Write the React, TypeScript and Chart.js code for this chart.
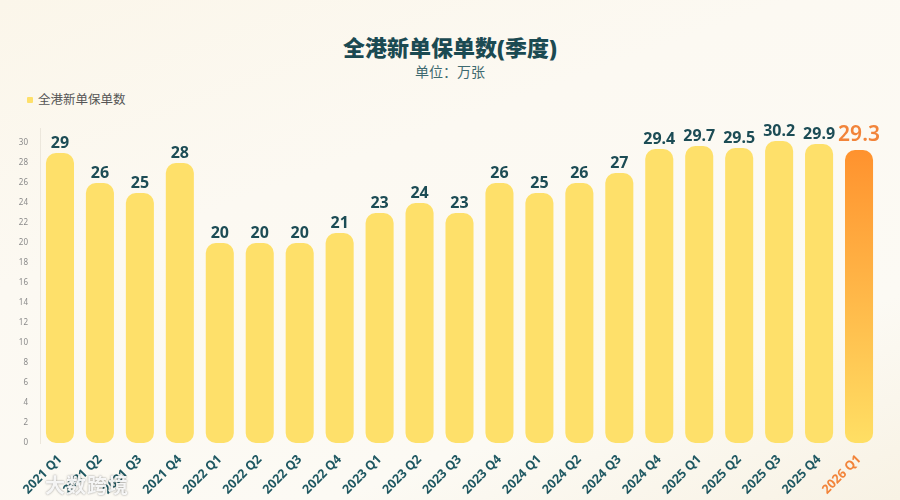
import { useEffect, useRef } from "react";
import { Chart, registerables, type ChartOptions, type Plugin } from "chart.js";

Chart.register(...registerables);

const quarters = [
  "2021 Q1", "2021 Q2", "2021 Q3", "2021 Q4",
  "2022 Q1", "2022 Q2", "2022 Q3", "2022 Q4",
  "2023 Q1", "2023 Q2", "2023 Q3", "2023 Q4",
  "2024 Q1", "2024 Q2", "2024 Q3", "2024 Q4",
  "2025 Q1", "2025 Q2", "2025 Q3", "2025 Q4",
  "2026 Q1",
];
const policies = [29, 26, 25, 28, 20, 20, 20, 21, 23, 24, 23, 26, 25, 26, 27, 29.4, 29.7, 29.5, 30.2, 29.9, 29.3];
const yTicks = [0, 2, 4, 6, 8, 10, 12, 14, 16, 18, 20, 22, 24, 26, 28, 30];

const TEAL = "#1c4c55";
const ORANGE = "#f2843a";
const YELLOW = "#fee06a";
const FONT = '"Noto Sans", "Noto Sans CJK SC", sans-serif';
const LAST = quarters.length - 1;

// numbers above the bars, the latest quarter in orange
const valueLabels: Plugin<"bar"> = {
  id: "valueLabels",
  afterDatasetsDraw(chart) {
    const ctx = chart.ctx;
    const meta = chart.getDatasetMeta(0);
    ctx.save();
    ctx.textAlign = "center";
    ctx.textBaseline = "bottom";
    meta.data.forEach((bar, i) => {
      const last = i === LAST;
      ctx.fillStyle = last ? ORANGE : TEAL;
      ctx.font = last ? `600 21px ${FONT}` : `700 16px ${FONT}`;
      ctx.fillText(String(policies[i]), bar.x, bar.y - (last ? 4 : 2));
    });
    ctx.restore();
  },
};

const options: ChartOptions<"bar"> = {
  responsive: true,
  maintainAspectRatio: false,
  animation: false,
  layout: { padding: { top: 128, right: 21, left: 0, bottom: 0 } },
  plugins: {
    legend: { display: false },
    tooltip: { enabled: false },
  },
  scales: {
    x: {
      grid: { display: false },
      border: { display: false },
      afterFit: (scale) => {
        scale.height = 57;
      },
      ticks: {
        minRotation: 45,
        maxRotation: 45,
        padding: 1,
        color: (c) => (c.index === LAST ? ORANGE : "#1f5862"),
        font: { family: FONT, size: 12.5, weight: "bold" },
      },
    },
    y: {
      min: 0,
      max: 31.5,
      grid: { display: false },
      border: { display: true, color: "#ece7dc" },
      afterFit: (scale) => {
        scale.width = 40;
      },
      afterBuildTicks: (scale) => {
        scale.ticks = yTicks.map((v) => ({ value: v }));
      },
      ticks: {
        padding: 4,
        color: "#8a8a8a",
        font: { family: FONT, size: 8 },
      },
    },
  },
};

function PolicyChart() {
  const canvasRef = useRef<HTMLCanvasElement>(null);

  useEffect(() => {
    const canvas = canvasRef.current;
    if (!canvas) return;

    const chart = new Chart(canvas, {
      type: "bar",
      data: {
        labels: quarters,
        datasets: [
          {
            label: "全港新单保单数",
            data: policies,
            backgroundColor: (c) => {
              if (c.dataIndex !== LAST) return YELLOW;
              const area = c.chart.chartArea;
              if (!area) return ORANGE;
              const y = c.chart.scales.y;
              const g = c.chart.ctx.createLinearGradient(0, y.getPixelForValue(policies[LAST]), 0, y.getPixelForValue(0));
              g.addColorStop(0, "#ff922e");
              g.addColorStop(0.45, "#ffb446");
              g.addColorStop(1, "#ffdf64");
              return g;
            },
            borderRadius: 10,
            borderSkipped: false,
            categoryPercentage: 0.9,
            barPercentage: 0.78,
          },
        ],
      },
      options,
      plugins: [valueLabels],
    });

    return () => chart.destroy();
  }, []);

  return <canvas ref={canvasRef} />;
}

export default function App() {
  return (
    <div
      style={{
        position: "fixed",
        left: 0,
        top: 0,
        width: 900,
        height: 500,
        background: "linear-gradient(160deg, #fbf6ea 0%, #fcf9f2 35%, #fcfaf4 75%, #f8f2e4 100%)",
        fontFamily: FONT,
        overflow: "hidden",
      }}
    >
      <div style={{ position: "absolute", left: 0, top: 32, width: 900, textAlign: "center", fontSize: 22, fontWeight: 900, color: "#1b4a52", lineHeight: "30px" }}>
        全港新单保单数(季度)
      </div>
      <div style={{ position: "absolute", left: 0, top: 62, width: 900, textAlign: "center", fontSize: 14, color: "#3e6a70", lineHeight: "20px" }}>
        单位：万张
      </div>
      <div style={{ position: "absolute", left: 27, top: 91, display: "flex", alignItems: "center", fontSize: 12.5, color: "#555", lineHeight: "17px" }}>
        <span style={{ display: "inline-block", width: 6, height: 6, background: YELLOW, marginRight: 5, borderRadius: 1 }} />
        全港新单保单数
      </div>
      <div style={{ position: "absolute", left: 0, top: 0, width: 900, height: 500 }}>
        <PolicyChart />
      </div>
      <div
        style={{
          position: "absolute",
          left: 45,
          top: 470,
          fontSize: 20,
          fontWeight: 700,
          color: "rgba(255,255,255,0.9)",
          textShadow: "0 0 2px rgba(60,60,60,0.6)",
          letterSpacing: 1,
        }}
      >
        大数跨境
      </div>
    </div>
  );
}
